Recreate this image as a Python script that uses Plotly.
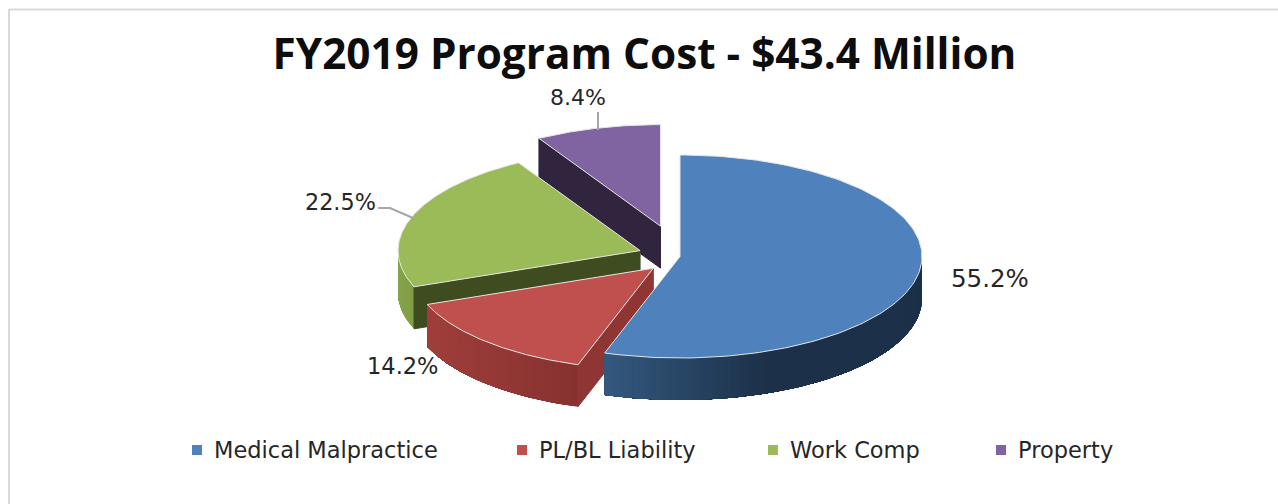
import numpy as np
import plotly.graph_objects as go

categories = ["Medical Malpractice", "PL/BL Liability", "Work Comp", "Property"]
shares = [55.2, 14.2, 22.5, 8.4]
share_labels = ["55.2%", "14.2%", "22.5%", "8.4%"]
chart_title = "FY2019 Program Cost - $43.4 Million"

W, H = 1278, 504
CX, CY, RX, RY, DEPTH = 680.0, 256.5, 242.0, 101.5, 42.0
EXPLODE = [0.0, 0.16, 0.175, 0.31]
TOP = ["#4f81bd", "#c0504d", "#9bbb59", "#8064a2"]
INNER = [None, "#8f3634", "#3e4c1f", "#30243f"]
SIDE_LEFT = ["#34597f", "#a03e3b", "#86a54b", None]
SIDE_RIGHT = ["#1c3149", "#863230", "#7f9c45", None]
GRAD_SPAN = [164.0, 153.0, 20.0, 1.0]
TEXT = "#262626"
EDGE = "#e6e6e6"

fractions = np.array(shares) / np.sum(shares)
ends = np.cumsum(fractions) * 360.0
starts = ends - fractions * 360.0


def pt(t_deg, c, z=0.0):
    t = np.radians(t_deg)
    return c[0] + RX * np.sin(t), c[1] - RY * np.cos(t) + z


def hex_mix(a, b, f):
    ca = [int(a[i:i + 2], 16) for i in (1, 3, 5)]
    cb = [int(b[i:i + 2], 16) for i in (1, 3, 5)]
    return "rgb(%d,%d,%d)" % tuple(round(x + (y - x) * f) for x, y in zip(ca, cb))


def poly(xs, ys, fill, line=None, width=1, hover=None):
    return go.Scatter(
        x=list(xs), y=list(ys), mode="lines", fill="toself", fillcolor=fill,
        line=dict(color=line or fill, width=width), showlegend=False,
        hoverinfo="text" if hover else "skip", text=hover,
    )


traces = []
draw_order = [3, 2, 1, 0]
for i in draw_order:
    t0, t1 = starts[i], ends[i]
    mid = np.radians((t0 + t1) / 2)
    c = (CX + EXPLODE[i] * RX * np.sin(mid), CY - EXPLODE[i] * RY * np.cos(mid))

    # outer wall, only its front half can be seen; strips overlap so no seams show
    a0, a1 = max(t0, 90.0), min(t1, 270.0)
    if a1 > a0 and SIDE_LEFT[i]:
        x_left = min(pt(a0, c)[0], pt(a1, c)[0])
        n = max(6, int((a1 - a0) * 1.2))
        edges = np.linspace(a0, a1, n + 1)[:-1]
        # walk from the right end of the wall to the left end
        rising = pt(a1, c)[0] < pt(a0, c)[0]
        order = edges if rising else edges
        for e in order:
            arc = np.linspace(e, a1, 80)
            xt, yt = pt(arc, c)
            xb, yb = pt(arc[::-1], c, DEPTH)
            f = min(1.0, max(0.0, (pt(e, c)[0] - x_left) / GRAD_SPAN[i]))
            col = hex_mix(SIDE_LEFT[i], SIDE_RIGHT[i], f)
            traces.append(poly(np.r_[xt, xb, xt[0]], np.r_[yt, yb, yt[0]], col, width=0))

    # cut wall facing the viewer
    if INNER[i]:
        ex, ey = pt(t0, c)
        traces.append(poly([c[0], ex, ex, c[0], c[0]],
                           [c[1], ey, ey + DEPTH, c[1] + DEPTH, c[1]], INNER[i]))

    # top face
    arc = np.linspace(t0, t1, 160)
    xa, ya = pt(arc, c)
    traces.append(poly(np.r_[c[0], xa, c[0]], np.r_[c[1], ya, c[1]], TOP[i],
                       line=EDGE, width=1,
                       hover=f"{categories[i]}: {share_labels[i]}"))

# leader lines
leader_x = [[598, 598], [378, 390, 413]]
leader_y = [[112, 130], [208, 208, 218]]
for lx, ly in zip(leader_x, leader_y):
    traces.append(go.Scatter(x=lx, y=ly, mode="lines", showlegend=False, hoverinfo="skip",
                             line=dict(color="#a6a6a6", width=2)))

# legend
legend_x = [197, 522, 773, 1001]
legend_y = 450
traces.append(go.Scatter(
    x=legend_x, y=[legend_y] * 4, mode="markers", showlegend=False, hoverinfo="skip",
    marker=dict(symbol="square", size=10, color=TOP, line=dict(width=0)),
))

annotations = []
for name, x in zip(categories, legend_x):
    annotations.append(dict(x=x + 15, y=legend_y, text=name, xanchor="left", yanchor="middle",
                            showarrow=False, font=dict(family="DejaVu Sans", size=22.5, color=TEXT)))
label_pos = [(990, 278), (402, 366), (340, 202), (578, 97)]
label_size = [24.5, 22.5, 22.3, 22]
for lab, (x, y), s in zip(share_labels, label_pos, label_size):
    annotations.append(dict(x=x, y=y, text=lab, xanchor="center", yanchor="middle",
                            showarrow=False, font=dict(family="DejaVu Sans", size=s, color=TEXT)))

fig = go.Figure(traces)
fig.update_layout(
    width=W, height=H, margin=dict(l=0, r=0, t=0, b=0),
    paper_bgcolor="white", plot_bgcolor="white", showlegend=False,
    title=dict(text=f"<b>{chart_title}</b>", x=644.5 / W, xanchor="center", y=1 - 54 / H, yanchor="middle",
               font=dict(family="Open Sans", size=42.3, color="#0d0d0d")),
    xaxis=dict(range=[0, W], visible=False, fixedrange=True),
    yaxis=dict(range=[H, 0], visible=False, fixedrange=True),
    annotations=annotations,
    shapes=[
        dict(type="line", xref="x", yref="y", x0=9, x1=W, y0=9.5, y1=9.5, line=dict(color="#d9d9d9", width=2)),
        dict(type="line", xref="x", yref="y", x0=9, x1=9, y0=9, y1=H, line=dict(color="#d9d9d9", width=2)),
    ],
)
fig.write_html("out.html", config={"displayModeBar": False},
               post_script="document.body.style.margin='0';document.body.style.overflow='hidden';")
